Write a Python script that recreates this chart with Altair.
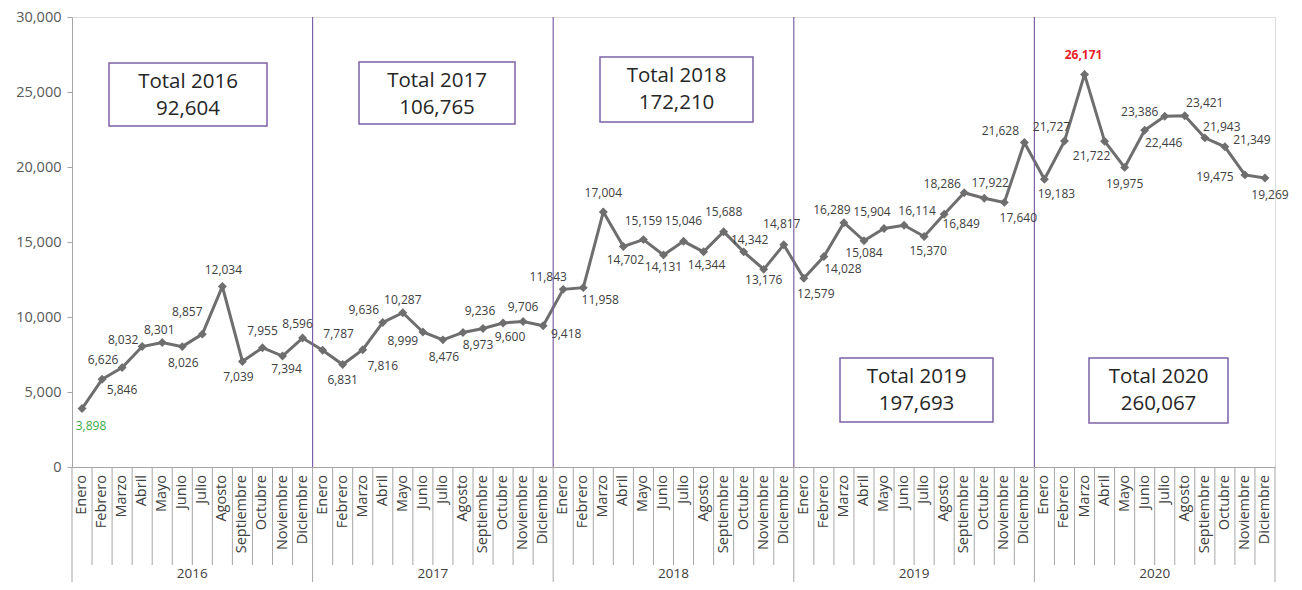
import altair as alt
import pandas as pd

years = ["2016", "2017", "2018", "2019", "2020"]
months = ["Enero", "Febrero", "Marzo", "Abril", "Mayo", "Junio", "Julio",
          "Agosto", "Septiembre", "Octubre", "Noviembre", "Diciembre"]

v2016 = [3898, 5846, 6626, 8032, 8301, 8026, 8857, 12034, 7039, 7955, 7394, 8596]
v2017 = [7787, 6831, 7816, 9636, 10287, 8999, 8476, 8973, 9236, 9600, 9706, 9418]
v2018 = [11843, 11958, 17004, 14702, 15159, 14131, 15046, 14344, 15688, 14342, 13176, 14817]
v2019 = [12579, 14028, 16289, 15084, 15904, 16114, 15370, 16849, 18286, 17922, 17640, 21628]
v2020 = [19183, 21727, 26171, 21722, 19975, 22446, 23386, 23421, 21943, 21349, 19475, 19269]

totals = [92604, 106765, 172210, 197693, 260067]

# label placement offsets in pixels (dx, dy) relative to each point
off2016 = [(9, 17), (20, 11), (-19, -8), (-19, -7), (-3, -12), (1, 16), (-15, -22), (1, -16), (-4, 16), (0, -17), (4, 13), (-5, -14)]
off2017 = [(16, -16), (0, 15), (20, 16), (-19, -12), (0, -13), (-20, 9), (1, 17), (15, 13), (-3, -17), (7, 14), (0, -14), (23, 8)]
off2018 = [(-15, -12), (17, 12), (0, -19), (2, 14), (0, -19), (0, 12), (0, -20), (3, 13), (0, -20), (6, -12), (0, 11), (-2, -21)]
off2019 = [(12, 16), (19, 12), (-12, -13), (0, 12), (-12, -16), (13, -14), (4, 15), (17, 10), (-22, -9), (6, -15), (14, 16), (-24, -12)]
off2020 = [(12, 15), (-13, -14), (-1, -19), (-13, 15), (0, 17), (19, 13), (-25, -4), (20, -13), (17, -11), (27, -7), (-30, 2), (5, 17)]

# annotation boxes (pixels inside plot area)
box_x = [37, 287, 528, 768, 1017]
box_x2 = [195, 443, 681, 921, 1156]
box_y = [46, 45, 40, 341, 341]
box_y2 = [109, 107, 105, 405, 406]

W, H = 1203, 450
PX_X = W / 60.0
PX_Y = H / 30000.0

series = [v2016, v2017, v2018, v2019, v2020]
offs = [off2016, off2017, off2018, off2019, off2020]

rows = []
for yi, (yr, vals, off) in enumerate(zip(years, series, offs)):
    for mi, (m, v, (dx, dy)) in enumerate(zip(months, vals, off)):
        idx = yi * 12 + mi
        rows.append({"idx": idx, "year": yr, "month": m, "value": v,
                     "label": f"{v:,}",
                     "lx": idx + dx / PX_X, "ly": v - dy / PX_Y})
df = pd.DataFrame(rows)
vmin = df["value"].min()
vmax = df["value"].max()
df["kind"] = ["min" if v == vmin else ("max" if v == vmax else "normal") for v in df["value"]]

xscale = alt.Scale(domain=[-0.5, 59.5], nice=False, zero=False)
yscale = alt.Scale(domain=[0, 30000], nice=False)

base = alt.Chart(df)

line = base.mark_line(color="#6e6e6e", strokeWidth=3).encode(
    x=alt.X("idx:Q", scale=xscale,
            axis=alt.Axis(labels=False, ticks=False, grid=False, domain=True,
                          domainColor="#a6a6a6", title=None)),
    y=alt.Y("value:Q", scale=yscale,
            axis=alt.Axis(values=[0, 5000, 10000, 15000, 20000, 25000, 30000],
                          format=",.0f", grid=False, title=None, domainColor="#a6a6a6",
                          tickColor="#a6a6a6", tickSize=5, labelFontSize=14.5,
                          labelColor="#595959", labelPadding=6, labelFont="Open Sans")),
)
points = base.mark_point(shape="diamond", filled=True, size=80, color="#6e6e6e", opacity=1).encode(
    x=alt.X("idx:Q", scale=xscale), y=alt.Y("value:Q", scale=yscale))

labels = base.transform_filter("datum.kind == 'normal'").mark_text(
    fontSize=12, font="Open Sans", color="#404040", align="center", baseline="middle").encode(
    x=alt.X("lx:Q", scale=xscale), y=alt.Y("ly:Q", scale=yscale), text="label:N")
label_min = base.transform_filter("datum.kind == 'min'").mark_text(
    fontSize=12, font="Open Sans", color="#3aaa4a", align="center", baseline="middle").encode(
    x=alt.X("lx:Q", scale=xscale), y=alt.Y("ly:Q", scale=yscale), text="label:N")
label_max = base.transform_filter("datum.kind == 'max'").mark_text(
    fontSize=12, font="Open Sans", color="#e8202a", fontWeight="bold", align="center", baseline="middle").encode(
    x=alt.X("lx:Q", scale=xscale), y=alt.Y("ly:Q", scale=yscale), text="label:N")

# month labels
month_text = base.mark_text(fontSize=14.5, font="Open Sans", color="#404040", angle=270,
                            align="right", baseline="middle").encode(
    x=alt.X("idx:Q", scale=xscale), y=alt.value(H + 8), text="month:N")

# separators
sep_df = pd.DataFrame({"sx": [k + 0.5 for k in range(59) if (k + 1) % 12 != 0]})
month_sep = alt.Chart(sep_df).mark_rule(color="#a6a6a6", strokeWidth=1).encode(
    x=alt.X("sx:Q", scale=xscale), y=alt.value(H), y2=alt.value(H + 98))

ysep_df = pd.DataFrame({"sx": [-0.5 + 12 * k for k in range(6)]})
year_sep = alt.Chart(ysep_df).mark_rule(color="#a6a6a6", strokeWidth=1).encode(
    x=alt.X("sx:Q", scale=xscale), y=alt.value(H), y2=alt.value(H + 116))

psep_df = pd.DataFrame({"sx": [11.5 + 12 * k for k in range(4)]})
purple_sep = alt.Chart(psep_df).mark_rule(color="#7e62a8", strokeWidth=1.2).encode(
    x=alt.X("sx:Q", scale=xscale), y=alt.value(0), y2=alt.value(H))

ylab_df = pd.DataFrame({"year": years, "cx": [5.5 + 12 * k for k in range(5)]})
year_text = alt.Chart(ylab_df).mark_text(fontSize=13.5, font="Open Sans", color="#404040",
                                         baseline="middle").encode(
    x=alt.X("cx:Q", scale=xscale), y=alt.value(H + 107), text="year:N")

box_df = pd.DataFrame({
    "bx": box_x, "bx2": box_x2, "by": box_y, "by2": box_y2,
    "t1": [f"Total {y}" for y in years], "t2": [f"{t:,}" for t in totals],
})
box_df["cx"] = (box_df["bx"] + box_df["bx2"]) / 2
box_df["ty1"] = box_df["by"] + 19
box_df["ty2"] = box_df["by"] + 46

boxes = alt.Chart(box_df).mark_rect(fill="white", stroke="#7e62a8", strokeWidth=1.5).encode(
    x=alt.X("bx:Q", scale=None), x2="bx2:Q", y=alt.Y("by:Q", scale=None), y2="by2:Q")
box_t1 = alt.Chart(box_df).mark_text(fontSize=20.5, font="Open Sans", color="#262626",
                                     baseline="middle").encode(
    x=alt.X("cx:Q", scale=None), y=alt.Y("ty1:Q", scale=None), text="t1:N")
box_t2 = alt.Chart(box_df).mark_text(fontSize=20.5, font="Open Sans", color="#262626",
                                     baseline="middle").encode(
    x=alt.X("cx:Q", scale=None), y=alt.Y("ty2:Q", scale=None), text="t2:N")

chart = alt.layer(
    line, purple_sep, month_sep, year_sep, points, labels, label_min, label_max,
    month_text, year_text, boxes, box_t1, box_t2
).properties(
    width=W, height=H,
    autosize=alt.AutoSizeParams(type="none"),
    padding={"left": 64, "top": 9, "right": 19, "bottom": 115},
).configure_view(stroke=None).configure(background="white")

chart.save("out.html", embed_options={"renderer": "svg", "actions": False})
